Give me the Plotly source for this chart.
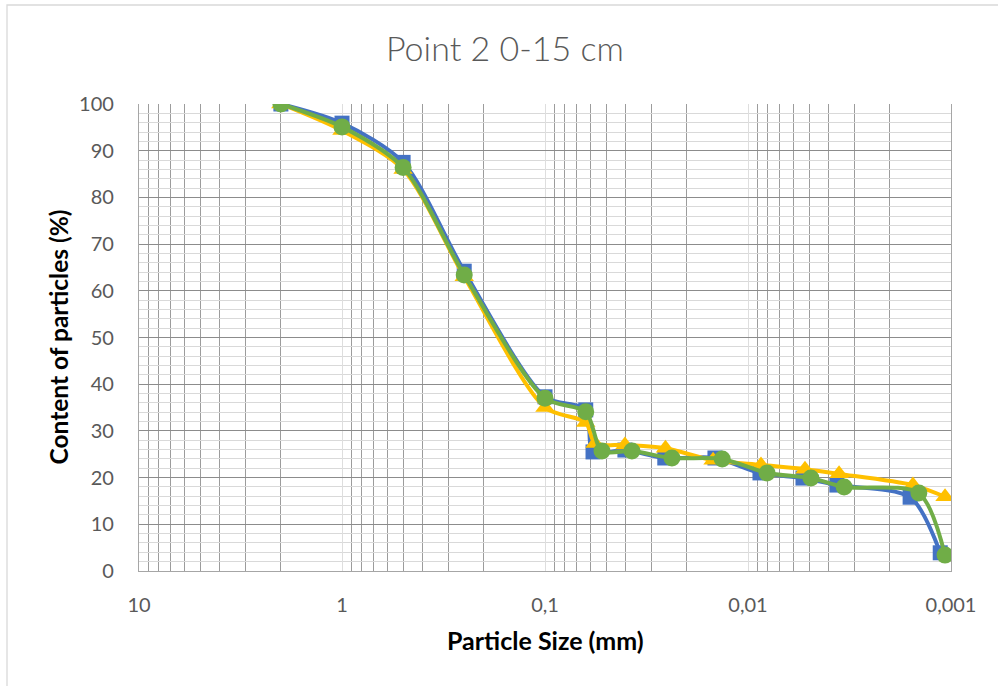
import plotly.graph_objects as go

# Particle size distribution, Point 2, depth 0-15 cm
size_blue = [2.0, 1.0, 0.5, 0.25, 0.1, 0.063, 0.058, 0.0404, 0.0257, 0.01455,
             0.00873, 0.00536, 0.00365, 0.00159, 0.00113]
pct_blue = [100, 95.9, 87.5, 64.2, 37.3, 34.5, 25.5, 25.9, 24.2, 24.2,
            21.0, 19.9, 18.4, 15.8, 3.9]

size_yellow = [2.0, 1.0, 0.5, 0.25, 0.1, 0.063, 0.0567, 0.0404, 0.0255, 0.01486,
               0.00863, 0.00524, 0.00356, 0.00154, 0.00107]
pct_yellow = [100, 94.3, 86.0, 63.0, 35.0, 31.8, 27.3, 27.0, 26.3, 23.7,
              22.7, 21.8, 20.8, 18.4, 15.9]

size_green = [2.0, 1.0, 0.5, 0.25, 0.1, 0.063, 0.0524, 0.0373, 0.0237, 0.0134,
              0.00806, 0.0049, 0.00336, 0.00144, 0.00107]
pct_green = [100, 95.1, 86.4, 63.4, 37.0, 34.1, 25.7, 25.7, 24.2, 24.0,
             21.0, 19.9, 18.0, 16.7, 3.4]

x_tick_vals = [10, 1, 0.1, 0.01, 0.001]
x_tick_text = ["10", "1", "0,1", "0,01", "0,001"]

series = [
    (size_blue, pct_blue, "#4472C4", "square", 15),
    (size_yellow, pct_yellow, "#FFC000", "triangle-up", 17),
    (size_green, pct_green, "#70AD47", "circle", 17),
]

fig = go.Figure()
for xs, ys, color, symbol, msize in series:
    fig.add_trace(go.Scatter(
        x=xs, y=ys, mode="lines+markers",
        line=dict(color=color, width=4, shape="spline", smoothing=0.8),
        marker=dict(color=color, symbol=symbol, size=msize,
                    line=dict(color=color, width=0)),
        showlegend=False, hoverinfo="skip",
    ))

W, H = 998, 686
L, R, T, B = 139, 47, 104, 115
pw, ph = W - L - R, H - T - B

fig.update_layout(
    width=W, height=H,
    margin=dict(l=L, r=R, t=T, b=B),
    paper_bgcolor="white", plot_bgcolor="white",
    font=dict(family="Lato", color="#595959"),
    xaxis=dict(
        type="log", range=[1, -3],
        tickvals=x_tick_vals, ticktext=x_tick_text,
        tickfont=dict(size=20, color="#595959"),
        ticks="", ticklabelstandoff=16,
        showgrid=True, gridcolor="#dedede", gridwidth=1,
        minor=dict(dtick="D1", showgrid=True, gridcolor="#9c9c9c", gridwidth=1.3, ticks=""),
        showline=True, linecolor="#a6a6a6", linewidth=1.3,
        zeroline=False,
    ),
    yaxis=dict(
        range=[0, 100], dtick=10,
        tickfont=dict(size=20, color="#595959"),
        ticks="", ticklabelstandoff=20,
        showgrid=True, gridcolor="#8c8c8c", gridwidth=1.3,
        minor=dict(dtick=2, showgrid=True, gridcolor="#d9d9d9", gridwidth=1, ticks=""),
        showline=True, linecolor="#a6a6a6", linewidth=1.3, mirror=True,
        zeroline=False,
    ),
    annotations=[
        dict(text="Point 2 0-15 cm", xref="paper", yref="paper",
             x=(505 - L) / pw, y=(H - B - 48) / ph, xanchor="center", yanchor="middle",
             showarrow=False, font=dict(family="Lato", size=34, color="#595959", weight=300)),
        dict(text="Particle Size (mm)", xref="paper", yref="paper",
             x=0.5, y=(H - B - 640) / ph, xanchor="center", yanchor="middle",
             showarrow=False, font=dict(family="Lato", size=25, color="black", weight="bold")),
        dict(text="Content of particles (%)", xref="paper", yref="paper",
             x=(58 - L) / pw, y=0.5, xanchor="center", yanchor="middle", textangle=-90,
             showarrow=False, font=dict(family="Lato", size=24.5, color="black", weight="bold")),
    ],
    shapes=[
        dict(type="rect", xref="paper", yref="paper",
             x0=(7 - L) / pw, x1=(1005 - L) / pw,
             y0=(H - B - 695) / ph, y1=(H - B - 5) / ph,
             line=dict(color="#d9d9d9", width=1.3), fillcolor="rgba(0,0,0,0)", layer="below"),
    ],
)

fig.write_html("out.html")
